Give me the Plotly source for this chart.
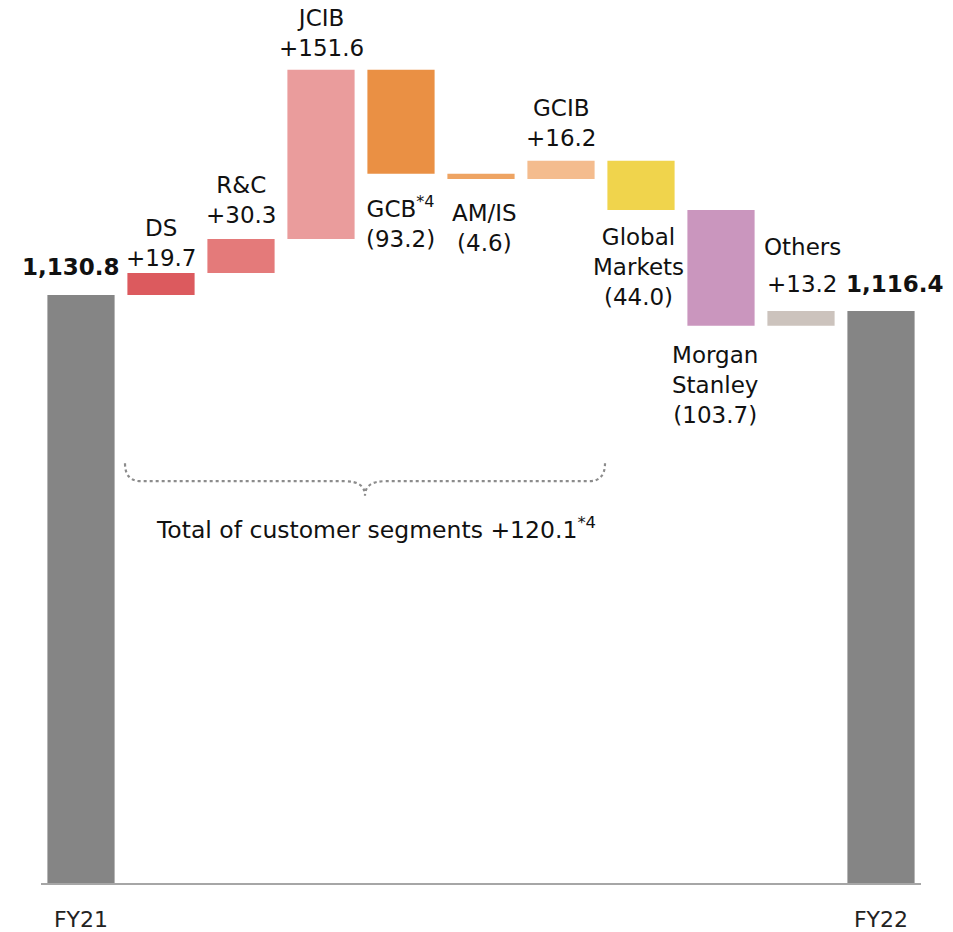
import plotly.graph_objects as go

# ---- data -------------------------------------------------------------
categories = ["FY21", "DS", "R&C", "JCIB", "GCB", "AM/IS", "GCIB",
              "Global Markets", "Morgan Stanley", "Others", "FY22"]
start_total = 1130.8
end_total = 1116.4
changes = [19.7, 30.3, 151.6, -93.2, -4.6, 16.2, -44.0, -103.7, 13.2]
segment_total_text = "+120.1"

# label names as drawn (line breaks / footnote marks)
label_names = ["", "DS", "R&C", "JCIB", "GCB<sup>*4</sup>", "AM/IS", "GCIB",
               "Global<br>Markets", "Morgan<br>Stanley", "", ""]

# ---- styling ----------------------------------------------------------
colors = ["#858585", "#DC5A5E", "#E47A7A", "#EA9C9C", "#EA9044", "#EEA463",
          "#F4BC8E", "#F0D44C", "#CA96BE", "#CCC3BD", "#858585"]
# label offsets in px (dx, dy) from the bar end the label refers to
label_offsets = [(-10, 28), (0, 30), (0, 39), (0, 37), (-1, -48), (3, -49),
                 (0, 38), (-3, -57), (-6, -59), (1, 27), (14, 27)]
FONT = "DejaVu Sans"
TEXT = "#111111"
LABEL_SIZE = 23

# ---- waterfall geometry -------------------------------------------------
bases, lengths, ends = [0.0], [start_total], [start_total]
running = start_total
for c in changes:
    bases.append(running)
    lengths.append(c)
    running += c
    ends.append(running)
bases.append(0.0)
lengths.append(end_total)
ends.append(end_total)

x_idx = list(range(len(categories)))

fig = go.Figure()
fig.add_trace(go.Bar(
    x=x_idx, y=lengths, base=bases,
    marker=dict(color=colors, line=dict(width=0)),
    width=0.84, hoverinfo="skip", showlegend=False,
))

# ---- value labels -------------------------------------------------------
def value_text(i):
    if i == 0:
        return f"<b>{start_total:,.1f}</b>"
    if i == len(categories) - 1:
        return f"<b>{end_total:,.1f}</b>"
    v = changes[i - 1]
    return f"+{v:.1f}" if v > 0 else f"({-v:.1f})"

for i in x_idx:
    name = label_names[i]
    txt = value_text(i) if not name else f"{name}<br>{value_text(i)}"
    dx, dy = label_offsets[i]
    fig.add_annotation(
        x=i, y=ends[i], xref="x", yref="y", text=txt, showarrow=False,
        xanchor="center", yanchor="middle", xshift=dx, yshift=dy,
        font=dict(family=FONT, size=LABEL_SIZE, color=TEXT), align="center",
    )

# name of the "Others" bar sits higher above its value
fig.add_annotation(
    x=9, y=ends[9], xref="x", yref="y", text="Others", showarrow=False,
    xanchor="center", yanchor="middle", xshift=1, yshift=64,
    font=dict(family=FONT, size=LABEL_SIZE, color=TEXT),
)

# ---- brace over the customer segments -----------------------------------
bx0, bx1 = 0.55, 6.55
bxc = (bx0 + bx1) / 2
y_end, y_flat, y_tip = 980, 964, 951
path = (f"M {bx0},{y_end} Q {bx0},{y_flat} {bx0 + 0.2},{y_flat} "
        f"L {bxc - 0.25},{y_flat} Q {bxc},{y_flat} {bxc},{y_tip} "
        f"Q {bxc},{y_flat} {bxc + 0.25},{y_flat} "
        f"L {bx1 - 0.2},{y_flat} Q {bx1},{y_flat} {bx1},{y_end}")
fig.add_shape(type="path", path=path, xref="x", yref="y",
              line=dict(color="#8C8C8C", width=2.2, dash="dot"))
fig.add_annotation(
    x=bxc, y=y_tip, xref="x", yref="y",
    text=f"Total of customer segments {segment_total_text}<sup>*4</sup>",
    showarrow=False, xanchor="center", yanchor="middle", xshift=11, yshift=-33,
    font=dict(family=FONT, size=23.5, color=TEXT),
)

# ---- layout -------------------------------------------------------------
fig.update_layout(
    width=953, height=932,
    margin=dict(l=41, r=32, t=0, b=46),
    paper_bgcolor="white", plot_bgcolor="white",
    bargap=0.16,
    xaxis=dict(
        range=[-0.5, 10.5], tickvals=[0, 10], ticktext=["FY21", "FY22"],
        showgrid=False, zeroline=False, showline=True,
        linecolor="#A6A6A6", linewidth=2, layer="below traces",
        ticks="", ticklabelstandoff=16,
        tickfont=dict(family=FONT, size=22, color="#222222"),
    ),
    yaxis=dict(range=[604.3, 1394.8], visible=False, showgrid=False),
)

fig.write_html("out.html")
